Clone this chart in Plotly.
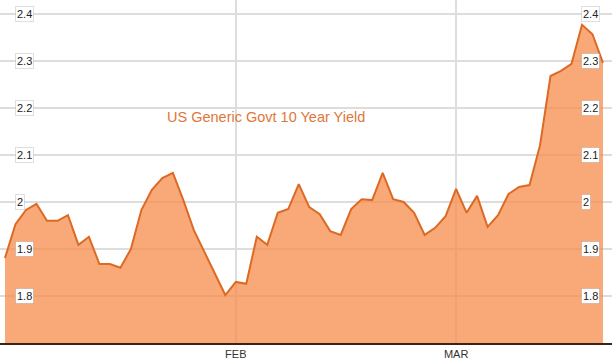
import plotly.graph_objects as go
import pandas as pd

# Weekday dates, Jan 2 - Mar 21, 2012
dates = [d.strftime("%Y-%m-%d") for d in pd.bdate_range("2012-01-02", "2012-03-21")]
yields = [1.881, 1.953, 1.983, 1.996, 1.960, 1.960, 1.972, 1.909, 1.926, 1.868,
          1.868, 1.860, 1.900, 1.983, 2.026, 2.051, 2.062, 2.004, 1.940, 1.894,
          1.849, 1.802, 1.830, 1.826, 1.926, 1.909, 1.977, 1.985, 2.038, 1.989,
          1.974, 1.938, 1.930, 1.985, 2.006, 2.004, 2.062, 2.006, 2.000, 1.977,
          1.930, 1.945, 1.970, 2.028, 1.977, 2.013, 1.947, 1.972, 2.017, 2.032,
          2.036, 2.121, 2.268, 2.279, 2.294, 2.377, 2.357, 2.296]
month_tick_dates = ["2012-02-01", "2012-03-01"]
month_tick_labels = ["FEB", "MAR"]
y_ticks = [1.8, 1.9, 2.0, 2.1, 2.2, 2.3, 2.4]
y_tick_labels = ["1.8", "1.9", "2", "2.1", "2.2", "2.3", "2.4"]
title_text = "US Generic Govt 10 Year Yield"

idx = list(range(len(yields)))
month_tick_idx = [dates.index(d) for d in month_tick_dates]

fig = go.Figure()
fig.add_trace(go.Scatter(
    x=idx, y=yields, mode="lines", fill="tozeroy",
    line=dict(color="#DC6A24", width=2),
    fillcolor="rgba(247,140,75,0.75)",
    customdata=dates, hovertemplate="%{customdata}: %{y:.3f}<extra></extra>",
    showlegend=False,
))

annotations = []
for v, lab in zip(y_ticks, y_tick_labels):
    for xp in (15 / 612, 581 / 612):
        annotations.append(dict(
            x=xp, y=v, xref="paper", yref="y", text=lab, showarrow=False,
            xanchor="left", yanchor="middle",
            font=dict(family="Liberation Sans, Arial", size=11, color="#222222"),
            bgcolor="white", bordercolor="rgba(0,0,0,0.13)", borderwidth=1, borderpad=1,
        ))
annotations.append(dict(
    x=165 / 612, y=2.1815, xref="paper", yref="y", text=title_text, showarrow=False,
    xanchor="left", yanchor="middle",
    font=dict(family="Liberation Sans, Arial", size=14.5, color="#DE773A"),
))

fig.update_layout(
    width=612, height=361,
    margin=dict(l=0, r=0, t=0, b=18),
    paper_bgcolor="white", plot_bgcolor="white",
    annotations=annotations,
    xaxis=dict(
        range=[-0.477, 57.86], tickmode="array", tickvals=month_tick_idx,
        ticktext=month_tick_labels, showgrid=True, gridcolor="#dddddd", gridwidth=1.5,
        zeroline=False, showline=True, linecolor="#3a2414", linewidth=2,
        ticks="", tickfont=dict(family="Liberation Sans, Arial", size=11, color="#333333"),
    ),
    yaxis=dict(
        range=[1.7, 2.4298], tickmode="array", tickvals=y_ticks, showticklabels=False,
        showgrid=True, gridcolor="#dddddd", gridwidth=1.5, zeroline=False, ticks="",
    ),
)

fig.write_html("out.html")
